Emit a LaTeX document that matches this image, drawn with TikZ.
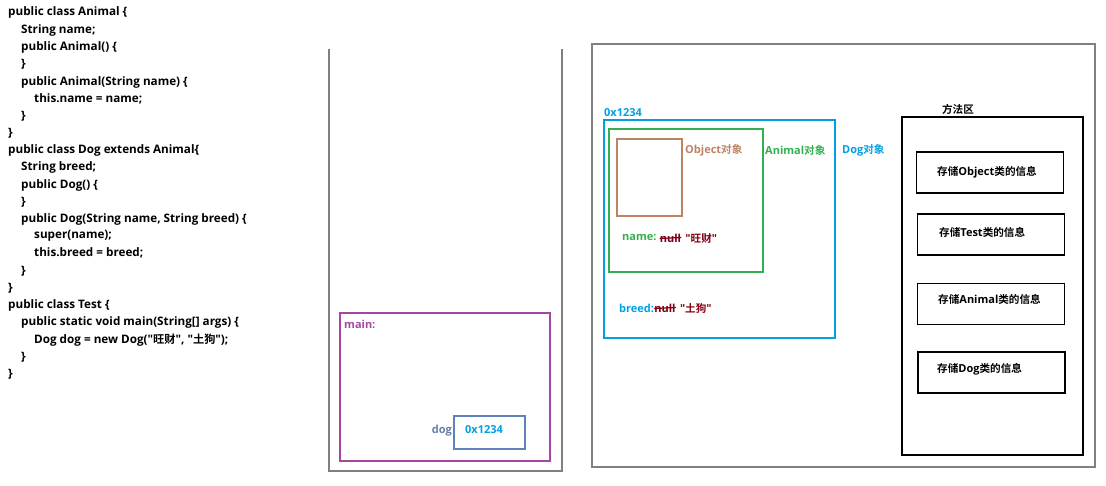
\documentclass[tikz,border=0pt]{standalone}
\usepackage{fontspec}
\setmonofont{Open Sans}
\newfontfamily\cjkfam{Noto Sans CJK SC}[BoldFont={Noto Sans CJK SC Bold}]
\newcommand\zh[1]{{\cjkfam\fontsize{10.6}{12}\selectfont\bfseries #1}}
\newcommand\zhc[1]{{\cjkfam\fontsize{11.2}{12}\selectfont\bfseries #1}}
\definecolor{panelgray}{RGB}{128,128,128}
\definecolor{mainpurple}{RGB}{165,70,165}
\definecolor{refblue}{RGB}{95,130,185}
\definecolor{dogtxt}{RGB}{100,125,170}
\definecolor{addrblue}{RGB}{0,160,225}
\definecolor{objgreen}{RGB}{50,175,80}
\definecolor{objbrown}{RGB}{190,130,100}
\definecolor{valred}{RGB}{130,0,20}
\tikzset{
  code/.style={anchor=west, inner sep=0pt, font=\ttfamily\fontsize{11.7}{12}\selectfont\bfseries},
  lbl/.style={anchor=west, inner sep=0pt, font=\ttfamily\fontsize{11}{12}\selectfont\bfseries},
  panel/.style={draw=panelgray, line width=1.4pt},
  infobox/.style={draw=black, line width=1.6pt, minimum width=147pt, minimum height=41pt, inner sep=0pt},
  strike/.style={draw=valred, line width=1.2pt}
}
\begin{document}
\begin{tikzpicture}[x=1pt,y=-1pt]
\useasboundingbox (0,0) rectangle (1106,486);
% code
\node[code] (c1) at (8,12) {public class Animal \{};
\node[code] (c2) at (21,30) {String name;};
\node[code] (c3) at (21,47) {public Animal() \{};
\node[code] (c4) at (21,64) {\}};
\node[code] (c5) at (21,82) {public Animal(String name) \{};
\node[code] (c6) at (34,99) {this.name = name;};
\node[code] (c7) at (21,116) {\}};
\node[code] (c8) at (8,133) {\}};
\node[code] (c9) at (8,150) {public class Dog extends Animal\{};
\node[code] (c10) at (21,167) {String breed;};
\node[code] (c11) at (21,185) {public Dog() \{};
\node[code] (c12) at (21,202) {\}};
\node[code] (c13) at (21,219) {public Dog(String name, String breed) \{};
\node[code] (c14) at (34,236) {super(name);};
\node[code] (c15) at (34,253) {this.breed = breed;};
\node[code] (c16) at (21,271) {\}};
\node[code] (c17) at (8,288) {\}};
\node[code] (c18) at (8,305) {public class Test \{};
\node[code] (c19) at (21,322) {public static void main(String[] args) \{};
\node[code] (c20) at (34,340) {Dog dog = new Dog("\zhc{旺财}", "\zhc{土狗}");};
\node[code] (c21) at (21,357) {\}};
\node[code] (c22) at (8,374) {\}};
% stack
\draw[panel] (329,49) -- (329,471) -- (562,471) -- (562,49);
\node[draw=mainpurple, line width=1.4pt, minimum width=210pt, minimum height=148pt, inner sep=0pt] (mainf) at (445,387) {};
\node[lbl, text=mainpurple] (mainl) at (344,324) {main:};
\node[draw=refblue, line width=1.4pt, minimum width=71pt, minimum height=33pt, inner sep=0pt] (dogbox) at (489.5,432.5) {};
\node[lbl, text=addrblue] (dogaddr) at (465,430) {0x1234};
\node[lbl, text=dogtxt, anchor=east] (dogl) at (452,431) {dog};
% heap
\node[panel, minimum width=503pt, minimum height=423pt, inner sep=0pt] (heap) at (843.5,255.5) {};
\node[draw=addrblue, line width=1.4pt, minimum width=231pt, minimum height=218pt, inner sep=0pt] (dogobj) at (719.5,229) {};
\node[lbl, text=addrblue] (addr) at (604,113) {0x1234};
\node[draw=objgreen, line width=1.4pt, minimum width=154pt, minimum height=143pt, inner sep=0pt] (animalobj) at (686,200.5) {};
\node[draw=objbrown, line width=1.4pt, minimum width=65pt, minimum height=77pt, inner sep=0pt] (objectobj) at (649.5,177.5) {};
\node[lbl, text=objbrown] (objl) at (685,150) {Object\zh{对象}};
\node[lbl, text=objgreen] (animl) at (765,150) {Animal\zh{对象}};
\node[lbl, text=addrblue] (dogobjl) at (842,150) {Dog\zh{对象}};
\node[lbl, text=objgreen] (namel) at (622,238) {name:};
\node[lbl, text=valred] (null1) at ([xshift=3pt]namel.east) {null};
\node[lbl, text=valred] (val1) at ([xshift=4pt]null1.east) {"\zh{旺财}"};
\draw[strike] ([yshift=-0.5pt]null1.west) -- ([yshift=0.5pt]null1.east);
\node[lbl, text=addrblue] (breedl) at (619,308) {breed:};
\node[lbl, text=valred] (null2) at ([xshift=0pt]breedl.east) {null};
\node[lbl, text=valred] (val2) at ([xshift=4pt]null2.east) {"\zh{土狗}"};
\draw[strike] ([yshift=-0.5pt]null2.west) -- ([yshift=0.5pt]null2.east);
% method area
\node[draw=black, line width=1.8pt, minimum width=181pt, minimum height=338pt, inner sep=0pt] (method) at (992.5,286) {};
\node[lbl, anchor=center] (methodl) at (958,109) {\zh{方法区}};
\node[infobox] (m1) at (990,172.5) {};
\node[infobox] (m2) at (991,234.5) {};
\node[infobox] (m3) at (991,304) {};
\node[infobox] (m4) at (991.5,372.5) {};
\node[lbl] (m1l) at (937,172) {\zh{存储}Object\zh{类的信息}};
\node[lbl] (m2l) at (939,232) {\zh{存储}Test\zh{类的信息}};
\node[lbl] (m3l) at (938,299) {\zh{存储}Animal\zh{类的信息}};
\node[lbl] (m4l) at (937,369) {\zh{存储}Dog\zh{类的信息}};
\end{tikzpicture}
\end{document}
